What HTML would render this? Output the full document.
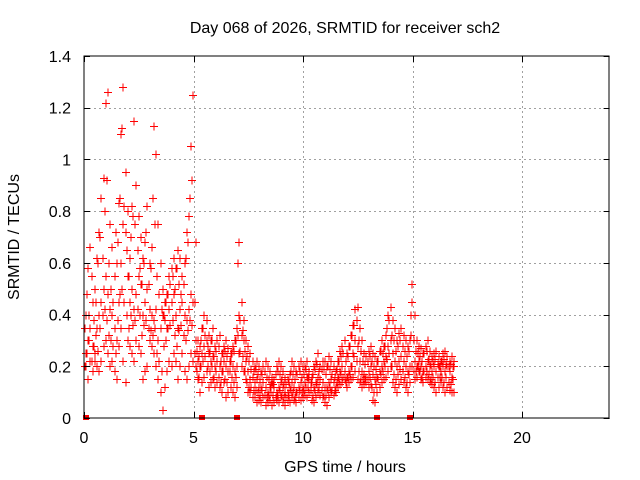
<!DOCTYPE html>
<html><head><meta charset="utf-8"><style>
html,body{margin:0;padding:0;background:#fff;}
svg{display:block;font-family:"Liberation Sans",Arial,sans-serif;}
</style></head><body>
<svg id="chart" width="640" height="480" viewBox="0 0 640 480" xmlns="http://www.w3.org/2000/svg">
<text x="345" y="33" font-size="16" text-anchor="middle">Day 068 of 2026, SRMTID for receiver sch2</text>
<g id="grid"></g>
<g id="marks" shape-rendering="crispEdges"></g>
<rect x="84" y="56" width="525" height="362" fill="none" stroke="#000" stroke-width="1" shape-rendering="crispEdges"/>
<g id="axes"></g>
<text x="345" y="472" font-size="16" text-anchor="middle">GPS time / hours</text>
<text x="0" y="0" font-size="16" text-anchor="middle" transform="translate(19,237) rotate(-90)">SRMTID / TECUs</text>
</svg>
<script>
const xTicks=[0,5,10,15,20];
const xTickLabels=["0","5","10","15","20"];
const yTicks=[0,0.2,0.4,0.6,0.8,1,1.2,1.4];
const yTickLabels=["0","0.2","0.4","0.6","0.8","1","1.2","1.4"];
const tStartA=0.05, tStartB=0.0, tStep=0.1;
const seriesHigh=[0.40,0.58,0.66,0.45,0.50,0.62,0.72,0.85,0.93,1.22,
1.26,0.75,0.66,0.55,0.60,0.83,1.10,1.28,0.95,0.80,
0.62,0.82,1.15,0.90,0.78,0.70,0.62,0.68,0.82,0.60,
0.66,1.13,1.02,0.75,0.60,0.50,0.45,0.48,0.55,0.58,
0.62,0.58,0.65,0.62,0.55,0.60,0.72,0.78,1.05,1.25,
0.68,0.30,0.28,0.35,0.40,0.38,0.32,0.30,0.35,0.28,
0.30,0.32,0.25,0.28,0.30,0.27,0.25,0.28,0.30,0.35,
0.68,0.45,0.38,0.30,0.28,0.25,0.22,0.20,0.22,0.20,
0.18,0.20,0.22,0.20,0.18,0.16,0.15,0.20,0.22,0.20,
0.18,0.16,0.15,0.17,0.22,0.20,0.18,0.20,0.22,0.20,
0.20,0.22,0.18,0.16,0.20,0.22,0.25,0.20,0.22,0.22,
0.20,0.24,0.22,0.20,0.18,0.22,0.26,0.28,0.30,0.25,
0.28,0.32,0.36,0.42,0.43,0.35,0.30,0.25,0.24,0.26,
0.28,0.25,0.24,0.22,0.26,0.30,0.28,0.32,0.40,0.43,
0.38,0.35,0.30,0.33,0.35,0.32,0.30,0.28,0.30,0.52,
0.40,0.30,0.28,0.27,0.25,0.28,0.30,0.26,0.24,0.25,
0.26,0.24,0.22,0.25,0.26,0.24,0.22,0.24,0.22];
const seriesMid=[0.25,0.30,0.35,0.28,0.22,0.35,0.40,0.45,0.50,0.55,
0.48,0.42,0.40,0.35,0.30,0.45,0.60,0.75,0.72,0.55,
0.45,0.50,0.42,0.48,0.55,0.52,0.40,0.45,0.50,0.42,
0.40,0.38,0.42,0.30,0.35,0.40,0.38,0.35,0.42,0.45,
0.48,0.40,0.35,0.42,0.45,0.40,0.38,0.42,0.48,0.45,
0.30,0.22,0.20,0.25,0.28,0.30,0.25,0.22,0.24,0.20,
0.22,0.20,0.18,0.22,0.20,0.18,0.22,0.20,0.18,0.20,
0.40,0.32,0.30,0.22,0.18,0.15,0.16,0.14,0.15,0.12,
0.12,0.14,0.12,0.10,0.12,0.14,0.12,0.10,0.12,0.14,
0.12,0.10,0.10,0.12,0.14,0.12,0.10,0.12,0.14,0.12,
0.14,0.16,0.15,0.14,0.12,0.14,0.16,0.15,0.14,0.12,
0.12,0.14,0.15,0.14,0.12,0.16,0.18,0.20,0.18,0.16,
0.18,0.20,0.25,0.30,0.28,0.22,0.18,0.17,0.16,0.18,
0.20,0.17,0.15,0.16,0.18,0.20,0.22,0.24,0.28,0.30,
0.25,0.22,0.20,0.22,0.24,0.22,0.20,0.18,0.20,0.45,
0.22,0.20,0.22,0.20,0.18,0.20,0.22,0.20,0.18,0.20,
0.18,0.20,0.18,0.20,0.18,0.20,0.18,0.16,0.20];
const seriesLow=[0.20,0.15,0.22,0.18,0.25,0.20,0.18,0.22,0.28,0.30,
0.25,0.20,0.22,0.18,0.15,0.28,0.35,0.22,0.14,0.30,
0.28,0.25,0.22,0.30,0.28,0.25,0.15,0.18,0.20,0.30,
0.28,0.25,0.20,0.15,0.10,0.03,0.12,0.18,0.22,0.20,
0.25,0.22,0.15,0.20,0.25,0.18,0.15,0.20,0.25,0.22,
0.20,0.15,0.10,0.14,0.16,0.18,0.12,0.14,0.15,0.12,
0.14,0.12,0.10,0.14,0.08,0.10,0.12,0.10,0.08,0.12,
0.25,0.20,0.18,0.15,0.10,0.10,0.08,0.08,0.06,0.07,
0.06,0.08,0.05,0.06,0.07,0.05,0.06,0.07,0.06,0.08,
0.06,0.05,0.07,0.06,0.08,0.07,0.06,0.08,0.07,0.08,
0.09,0.08,0.10,0.07,0.06,0.08,0.10,0.09,0.08,0.06,
0.05,0.08,0.10,0.09,0.10,0.12,0.13,0.14,0.15,0.12,
0.14,0.15,0.16,0.18,0.15,0.14,0.12,0.13,0.14,0.12,
0.13,0.07,0.06,0.10,0.12,0.14,0.15,0.16,0.18,0.20,
0.14,0.12,0.10,0.13,0.15,0.14,0.12,0.10,0.14,0.20,
0.15,0.16,0.18,0.15,0.14,0.16,0.15,0.14,0.13,0.12,
0.10,0.12,0.14,0.12,0.10,0.12,0.11,0.10,0.10];
const seriesUpperMid=[0.35,0.48,0.40,0.55,0.38,0.45,0.60,0.70,0.62,0.80,
0.92,0.60,0.50,0.45,0.72,0.68,0.85,1.12,0.82,0.65,
0.55,0.70,0.78,0.75,0.65,0.58,0.52,0.60,0.72,0.52,
0.58,0.85,0.75,0.55,0.48,0.42,0.40,0.45,0.48,0.52,
0.55,0.50,0.58,0.52,0.48,0.52,0.62,0.68,0.85,0.92,
0.45,0.26,0.24,0.30,0.35,0.32,0.28,0.26,0.30,0.24,
0.26,0.28,0.22,0.25,0.26,0.24,0.22,0.25,0.26,0.30,
0.60,0.38,0.34,0.26,0.24,0.22,0.19,0.18,0.19,0.17,
0.15,0.17,0.18,0.16,0.15,0.13,0.13,0.17,0.18,0.17,
0.15,0.13,0.13,0.14,0.18,0.17,0.15,0.17,0.18,0.16,
0.17,0.19,0.16,0.14,0.17,0.19,0.21,0.18,0.19,0.19,
0.17,0.20,0.19,0.17,0.16,0.19,0.22,0.24,0.25,0.22,
0.24,0.28,0.32,0.36,0.38,0.30,0.26,0.22,0.21,0.22,
0.24,0.22,0.20,0.19,0.22,0.26,0.25,0.28,0.35,0.38,
0.32,0.30,0.26,0.28,0.30,0.28,0.26,0.24,0.26,0.40,
0.30,0.26,0.25,0.24,0.22,0.25,0.26,0.23,0.21,0.22,
0.23,0.21,0.20,0.22,0.23,0.21,0.20,0.21,0.20];
const seriesLowerMid=[0.20,0.25,0.30,0.22,0.28,0.32,0.26,0.35,0.40,0.42,
0.38,0.32,0.30,0.28,0.25,0.38,0.48,0.50,0.45,0.40,
0.35,0.40,0.36,0.38,0.42,0.40,0.32,0.36,0.38,0.35,
0.34,0.32,0.35,0.25,0.22,0.18,0.28,0.30,0.35,0.36,
0.38,0.32,0.28,0.34,0.36,0.32,0.30,0.34,0.38,0.36,
0.25,0.18,0.16,0.20,0.22,0.24,0.20,0.18,0.20,0.16,
0.18,0.16,0.14,0.18,0.15,0.14,0.18,0.16,0.14,0.16,
0.32,0.26,0.24,0.18,0.14,0.12,0.12,0.11,0.11,0.10,
0.09,0.11,0.09,0.08,0.09,0.10,0.09,0.08,0.09,0.11,
0.09,0.08,0.08,0.09,0.11,0.10,0.08,0.10,0.11,0.10,
0.11,0.12,0.12,0.11,0.09,0.11,0.13,0.12,0.11,0.09,
0.09,0.11,0.12,0.11,0.11,0.14,0.15,0.17,0.16,0.14,
0.16,0.17,0.20,0.24,0.22,0.18,0.15,0.15,0.15,0.15,
0.16,0.12,0.10,0.13,0.15,0.17,0.18,0.20,0.23,0.25,
0.20,0.17,0.15,0.17,0.19,0.18,0.16,0.14,0.17,0.32,
0.18,0.18,0.20,0.18,0.16,0.18,0.18,0.17,0.15,0.16,
0.14,0.16,0.16,0.16,0.14,0.16,0.14,0.13,0.15];
const zeroMarkTimes=[0.1,5.4,7.0,13.4,14.9];

const NS="http://www.w3.org/2000/svg";
const X0=84,X1=609.6,Y0=418,Y1=56,XMAX=24,YMAX=1.4;
function xs(v){return X0+(X1-X0)*v/XMAX;}
function ys(v){return Y0-(Y0-Y1)*v/YMAX;}
function mk(tag,attrs,parent){const e=document.createElementNS(NS,tag);for(const k in attrs)e.setAttribute(k,attrs[k]);parent.appendChild(e);return e;}
const grid=document.getElementById('grid'),axes=document.getElementById('axes'),marks=document.getElementById('marks');
xTicks.forEach((t,i)=>{
  const x=Math.round(xs(t))+0.5;
  if(t>0){const g=mk('line',{x1:x,x2:x,y1:Y0,y2:Y1,stroke:'#a0a0a0','stroke-dasharray':'2,3'},grid);
  
  }
  const tk=mk('path',{d:`M${x},${Y0}v-6M${x},${Y1}v6`,stroke:'#000'},axes);
  
  
  const tl=mk('text',{x:xs(t),y:443,'font-size':16,'text-anchor':'middle'},axes);
  tl.textContent=xTickLabels[i];
  
  
});
yTicks.forEach((t,i)=>{
  const y=Math.round(ys(t))+0.5;
  if(t>0&&t<YMAX){const g=mk('line',{x1:X0,x2:X1,y1:y,y2:y,stroke:'#a0a0a0','stroke-dasharray':'2,3'},grid);
  
  }
  const tk=mk('path',{d:`M${X0},${y}h6M${X1},${y}h-6`,stroke:'#000'},axes);
  
  
  const tl=mk('text',{x:71,y:ys(t)+6,'font-size':16,'text-anchor':'end'},axes);
  tl.textContent=yTickLabels[i];
  
  
});
function plus(t,v,color){
  const x=Math.round(xs(t))+0.5,y=Math.round(ys(v))+0.5;
  const p=mk('path',{d:`M${x-3.5},${y}h8M${x+0.5},${y-4}v8`,stroke:color,'stroke-width':1},marks);
  
  
}
[seriesLow,seriesMid,seriesHigh].forEach(s=>{
  s.forEach((v,i)=>plus(tStartA+i*tStep,v,'#ff0000'));
});
[seriesUpperMid,seriesLowerMid].forEach(s=>{
  s.forEach((v,i)=>plus(tStartB+i*tStep,v,'#ff0000'));
});
zeroMarkTimes.forEach(t=>{
  const r=mk('rect',{x:Math.round(xs(t))-3,y:Y0-3,width:6,height:5,fill:'#ff0000'},marks);
  
  
});
</script>
</body></html>
